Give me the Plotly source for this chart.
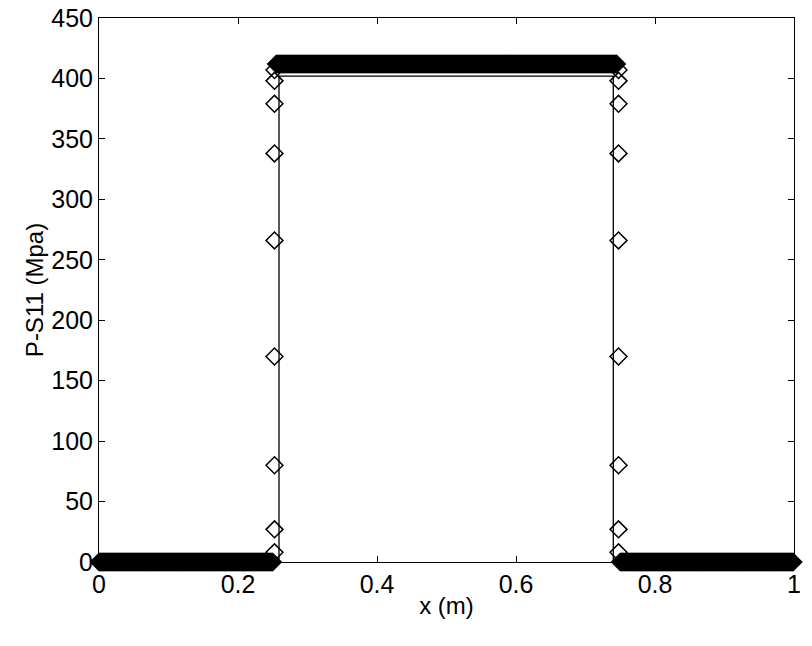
import numpy as np
import plotly.graph_objects as go

# exact solution (solid line)
exact_x = [0.0, 0.259, 0.259, 0.740, 0.740, 1.0]
exact_s11 = [0.0, 0.0, 402.0, 402.0, 0.0, 0.0]

# numerical result: flat plateaus (start, end, value) sampled every 0.001 m
plateaus = [(0.0, 0.25, 0.0), (0.255, 0.745, 412.0), (0.75, 1.0, 0.0)]
step_dx = 0.001

# points inside the two jumps
jump_left_x = 0.2525
jump_right_x = 0.7475
jump_s11 = [8, 27, 80, 170, 266, 338, 379, 398, 407]

num_x, num_s11 = [], []
for x0, x1, val in plateaus:
    xs = np.arange(x0, x1 + 1e-9, step_dx)
    num_x.extend(xs)
    num_s11.extend([val] * len(xs))
num_x.extend([jump_left_x] * len(jump_s11) + [jump_right_x] * len(jump_s11))
num_s11.extend(jump_s11 + jump_s11[::-1])

x_ticks = [0, 0.2, 0.4, 0.6, 0.8, 1]
x_labels = ['0', '0.2', '0.4', '0.6', '0.8', '1']
y_ticks = list(range(0, 451, 50))

fig = go.Figure()
fig.add_trace(go.Scatter(x=exact_x, y=exact_s11, mode='lines',
                         line=dict(color='black', width=1.3), showlegend=False))
fig.add_trace(go.Scatter(x=num_x, y=num_s11, mode='markers', showlegend=False,
                         cliponaxis=False,
                         marker=dict(symbol='diamond-open', size=13, color='black',
                                     line=dict(color='black', width=1.5))))

axis_style = dict(showline=True, linecolor='black', linewidth=1, mirror='ticks',
                  ticks='inside', ticklen=6, tickcolor='black', showgrid=False,
                  zeroline=False, tickfont=dict(size=25, color='black'))

fig.update_layout(
    width=812, height=646,
    margin=dict(l=99, r=18, t=18, b=84, autoexpand=False),
    plot_bgcolor='white', paper_bgcolor='white',
    font=dict(family='Liberation Sans, Arial, sans-serif', size=25, color='black'),
    xaxis=dict(range=[0, 1], tickvals=x_ticks, ticktext=x_labels,
               title=dict(text='x (m)', font=dict(size=24), standoff=0), **axis_style),
    yaxis=dict(range=[0, 450], tickvals=y_ticks,
               title=dict(text='P-S11 (Mpa)', font=dict(size=24), standoff=0), **axis_style),
)

# page body has an 8px default margin; drop it so the figure sits at the window origin
fig.write_html("out.html", config={'displayModeBar': False},
               post_script="document.body.style.margin = '0';")
